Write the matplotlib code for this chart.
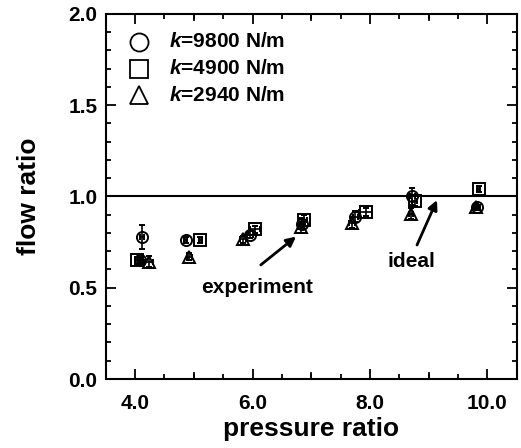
import matplotlib
matplotlib.use("Agg")
import matplotlib.pyplot as plt
from matplotlib.ticker import MultipleLocator, FixedLocator, FormatStrFormatter

plt.rcParams['font.family'] = ['Liberation Sans', 'DejaVu Sans']
plt.rcParams['mathtext.fontset'] = 'custom'
plt.rcParams['mathtext.it'] = 'Liberation Sans:italic:bold'
plt.rcParams['mathtext.rm'] = 'Liberation Sans:bold'

# k = 9800 N/m (circles)
x_9800 = [4.12, 4.08, 4.86, 5.95, 6.85, 7.75, 8.72, 9.83]
y_9800 = [0.776, 0.65, 0.762, 0.79, 0.85, 0.89, 1.00, 0.94]
yerr_9800 = [0.065, 0.02, 0.015, 0.02, 0.03, 0.03, 0.045, 0.015]
xerr_9800 = [0.03, 0.03, 0.03, 0.05, 0.04, 0.04, 0.04, 0.04]

# k = 4900 N/m (squares)
x_4900 = [4.04, 5.11, 6.04, 6.88, 7.93, 8.76, 9.85]
y_4900 = [0.65, 0.762, 0.82, 0.87, 0.915, 0.975, 1.04]
yerr_4900 = [0.02, 0.015, 0.02, 0.03, 0.02, 0.03, 0.015]
xerr_4900 = [0.04, 0.03, 0.09, 0.04, 0.11, 0.04, 0.03]

# k = 2940 N/m (triangles)
x_2940 = [4.23, 4.92, 5.83, 6.82, 7.70, 8.70, 9.80]
y_2940 = [0.643, 0.67, 0.765, 0.83, 0.855, 0.905, 0.944]
yerr_2940 = [0.03, 0.02, 0.02, 0.03, 0.03, 0.03, 0.015]
xerr_2940 = [0.08, 0.04, 0.05, 0.04, 0.05, 0.04, 0.04]

series = [
    (x_9800, y_9800, xerr_9800, yerr_9800, 'o', '9800'),
    (x_4900, y_4900, xerr_4900, yerr_4900, 's', '4900'),
    (x_2940, y_2940, xerr_2940, yerr_2940, '^', '2940'),
]

fig = plt.figure(figsize=(5.21, 4.48), dpi=100)
ax = fig.add_axes([0.203, 0.154, 0.789, 0.815])

for xs, ys, xe, ye, m, lab in series:
    ax.errorbar(xs, ys, xerr=xe, yerr=ye, fmt=m, mfc='none', mec='black',
                ms=8, mew=1.4, ecolor='black', elinewidth=1.2, capsize=2.5,
                capthick=1.2, zorder=3)

ax.axhline(1.0, color='black', lw=1.5, zorder=2)

ax.set_xlim(3.5, 10.5)
ax.set_ylim(0.0, 2.0)
ax.xaxis.set_major_locator(FixedLocator([4, 6, 8, 10]))
ax.xaxis.set_minor_locator(MultipleLocator(0.5))
ax.yaxis.set_major_locator(FixedLocator([0.0, 0.5, 1.0, 1.5, 2.0]))
ax.yaxis.set_minor_locator(MultipleLocator(0.1))
ax.xaxis.set_major_formatter(FormatStrFormatter('%.1f'))
ax.yaxis.set_major_formatter(FormatStrFormatter('%.1f'))

# medium ticks at odd integers on x
for xv in [5, 7, 9]:
    ax.plot([xv, xv], [0, 0.035], color='black', lw=1.3, clip_on=False, zorder=4)
    ax.plot([xv, xv], [2.0, 1.965], color='black', lw=1.3, clip_on=False, zorder=4)

ax.tick_params(which='both', direction='in', top=True, right=True, width=1.3)
ax.tick_params(which='major', length=7, labelsize=15)
ax.tick_params(axis='x', which='major', pad=11)
ax.tick_params(axis='y', which='major', pad=6)
ax.tick_params(which='minor', length=3.5)
for lab in ax.get_xticklabels() + ax.get_yticklabels():
    lab.set_fontweight('bold')
for sp in ax.spines.values():
    sp.set_linewidth(1.5)

ax.set_xlabel('pressure ratio', fontsize=19, fontweight='bold', labelpad=3)
ax.set_ylabel('flow ratio', fontsize=19, fontweight='bold', labelpad=20)

# legend (manual)
leg_y = [1.847, 1.70, 1.553]
for (xs, ys, xe, ye, m, num), yy in zip(series, leg_y):
    ax.plot([4.07], [yy], marker=m, mfc='none', mec='black', ms=13, mew=1.3,
            ls='none')
    ax.text(4.57, yy, r'$k$=' + num + ' N/m', fontsize=15, fontweight='bold',
            va='center', ha='left')

# annotations
ax.annotate('', xy=(6.74, 0.78), xytext=(6.14, 0.625),
            arrowprops=dict(arrowstyle='-|>', color='black', lw=2,
                            mutation_scale=14, shrinkA=0, shrinkB=0))
ax.text(6.07, 0.50, 'experiment', fontsize=15, fontweight='bold',
        ha='center', va='center')
ax.annotate('', xy=(9.14, 0.98), xytext=(8.80, 0.734),
            arrowprops=dict(arrowstyle='-|>', color='black', lw=2,
                            mutation_scale=14, shrinkA=0, shrinkB=0))
ax.text(8.71, 0.644, 'ideal', fontsize=15, fontweight='bold',
        ha='center', va='center')

fig.savefig('out.png', dpi=100)
